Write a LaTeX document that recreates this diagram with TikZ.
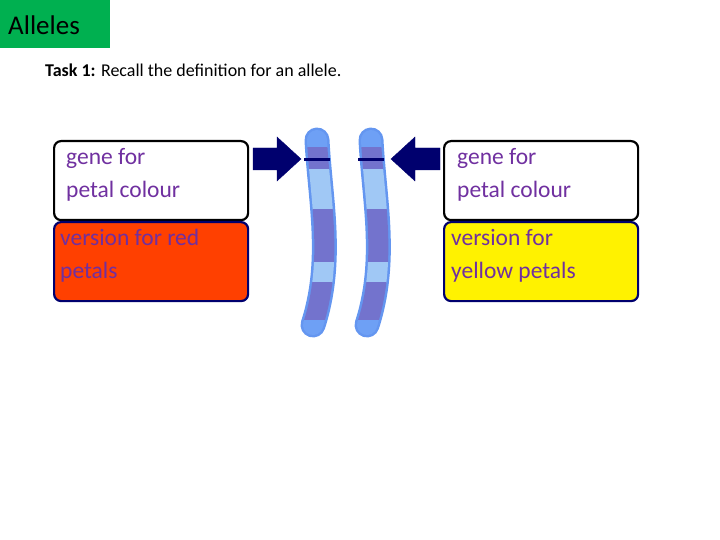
\documentclass[tikz,border=0pt]{standalone}
\usepackage{fontspec}
\setmainfont{Carlito}
\begin{document}
\begin{tikzpicture}[x=1pt,y=-1pt,
  box/.style={rounded corners=7pt,line width=2.2pt,minimum width=194pt,minimum height=79pt,anchor=north west},
  lbl/.style={text=purpleT,font=\fontsize{23.5}{33}\selectfont,align=left,anchor=north west,inner sep=0pt},
  arr/.style={fill=navyA,draw=navyA}]
\definecolor{purpleT}{RGB}{112,48,160}
\definecolor{navyA}{RGB}{0,0,110}
\definecolor{redB}{RGB}{255,64,0}
\definecolor{greenT}{RGB}{0,176,80}
\definecolor{chOut}{RGB}{100,150,240}
\definecolor{chLight}{RGB}{160,200,245}
\definecolor{chDark}{RGB}{115,115,205}
\definecolor{chCap}{RGB}{110,160,245}
\useasboundingbox (0,0) rectangle (720,540);
\fill[greenT] (0,0) rectangle (110,48);
\node[anchor=west,inner sep=0pt,font=\fontsize{27}{30}\selectfont] (title) at (8,25) {Alleles};
\node[anchor=west,inner sep=0pt,font=\fontsize{18}{21}\selectfont] (task) at (45,70) {\textbf{Task 1:} Recall the definition for an allele.};
\node[box,draw=black,fill=white] (lt) at (53,140) {};
\node[box,draw=navyA,fill=redB] (lb) at (53,221) {};
\node[box,draw=black,fill=white] (rt) at (443,140) {};
\node[box,draw=navyA,fill=yellow] (rb) at (443,221) {};
\node[lbl] (t1) at (66,148) {gene for\\petal colour};
\node[lbl] (t2) at (60,229) {version for red\\petals};
\node[lbl] (t3) at (457,148) {gene for\\petal colour};
\node[lbl] (t4) at (451,229) {version for\\yellow petals};
\fill[arr] (253,148) -- (277,148) -- (277,137) -- (301,159) -- (277,181) -- (277,170) -- (253,170) -- cycle;
\fill[arr] (440,148) -- (415,148) -- (415,137) -- (391,159) -- (415,181) -- (415,170) -- (440,170) -- cycle;
\foreach \dx in {0,54}{
 \begin{scope}[xshift=\dx]
  \draw[line width=25pt,line cap=round,chOut] (317,140) .. controls (320,200) and (334,260) .. (313,325);
  \foreach \ya/\yb/\c in {120/148/chCap,148/170/chDark,170/210/chLight,210/262/chDark,262/282/chLight,282/320/chDark,320/345/chCap}{
   \begin{scope}
    \clip (250,\ya) rectangle (450,\yb);
    \draw[line width=20pt,line cap=round,\c] (317,140) .. controls (320,200) and (334,260) .. (313,325);
   \end{scope}}
  \draw[navyA,line width=3pt] (304,160) -- (330,160);
 \end{scope}}
\end{tikzpicture}
\end{document}
